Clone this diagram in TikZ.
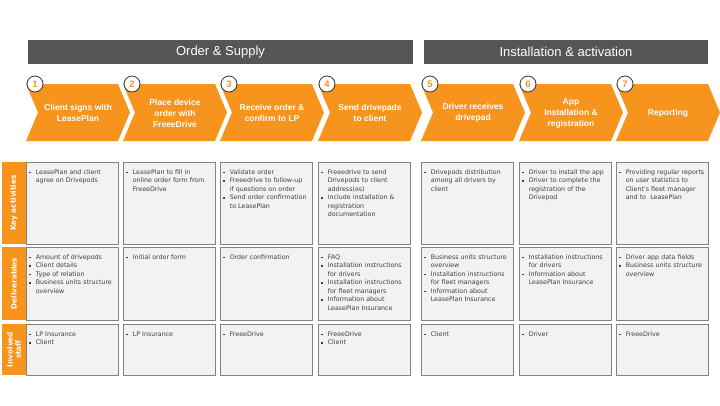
\documentclass[tikz,border=0pt]{standalone}
\usepackage{fontspec}
\setmainfont{Liberation Sans}
\newfontfamily\bodyfont{DejaVu Sans}
\usetikzlibrary{positioning, shadows}

\definecolor{lporange}{RGB}{247,148,30}
\definecolor{headgray}{RGB}{85,85,85}
\definecolor{cellfill}{RGB}{242,242,242}
\definecolor{cellline}{RGB}{130,130,130}
\definecolor{txtgray}{RGB}{64,64,64}

% bullet item with hanging indent
\newcommand{\itm}[1]{\par\hangindent=7pt\hangafter=1\noindent
  \makebox[7pt][l]{\hspace{0.6pt}\raisebox{1.3pt}{\rule{1.5pt}{1.5pt}}}{\let\\\newline #1}\par}

\begin{document}
\begin{tikzpicture}[
    x=1pt, y=-1pt,
    bar/.style={fill=headgray, text=white, font=\fontsize{13}{15}\selectfont, minimum height=24pt, inner sep=0pt},
    stepnum/.style={circle, draw=black!80, fill=white, line width=0.8pt, minimum size=16pt, inner sep=0pt, text=lporange, font=\bfseries\fontsize{9.5}{9.5}\selectfont},
    steptext/.style={text=white, font=\bfseries\fontsize{8.5}{11}\selectfont, align=center},
    cell/.style={draw=cellline, fill=cellfill, line width=0.8pt, minimum width=92pt, inner sep=0pt,
        drop shadow={shadow xshift=0.7pt, shadow yshift=-0.7pt, opacity=0.25}},
    side/.style={fill=lporange, rotate=90, minimum height=24pt, inner sep=0pt, text=white, align=center,
        font=\bodyfont\bfseries\fontsize{7.3}{8.3}\selectfont},
    txt/.style={anchor=north west, text width=90pt, align=left, inner sep=0pt, text=txtgray,
        font=\bodyfont\fontsize{6.3}{8.5}\selectfont}
]
\useasboundingbox (0,0) rectangle (720,405);

% phases
\node[bar, minimum width=385pt] (order) at (220.5,52) {Order \& Supply};
\node[bar, minimum width=284pt] (install) at (566,52) {Installation \& activation};

% process steps
\foreach \x/\n/\t in {26/1/{Client signs with\\LeasePlan}, 123/2/{Place device\\order with\\FreeeDrive},
    220/3/{Receive order \&\\confirm to LP}, 318/4/{Send drivepads\\to client}, 421/5/{Driver receives\\drivepad},
    519/6/{App\\Installation \&\\registration}, 616/7/{Reporting}} {
  \fill[lporange] (\x,84) -- ++(92,0) -- ++(12,28.5) -- ++(-12,28.5) -- ++(-92,0) -- ++(12,-28.5) -- cycle;
  \node[steptext] (step\n) at (\x+52,113) {\t};
  \node[stepnum] (num\n) at (\x+9,84) {\n};
}

% table cells
\foreach \x [count=\c] in {26,123,220,318,421,519,616} {
  \node[cell, minimum height=82pt] (key\c) at (\x+46,203) {};
  \node[cell, minimum height=73pt] (del\c) at (\x+46,283.5) {};
  \node[cell, minimum height=51pt] (inv\c) at (\x+46,349.5) {};
}

% row labels
\node[side, minimum width=82pt] (keyside) at (14,203) {Key activities};
\node[side, minimum width=73pt] (delside) at (14,283.5) {Deliverables};
\node[side, minimum width=51pt] (invside) at (14,349.5) {Involved\\staff};

% key activities
\node[txt] (keytxt1) at ([xshift=3pt,yshift=-4pt]key1.north west) {\itm{LeasePlan and client\\agree on Drivepods}};
\node[txt] (keytxt2) at ([xshift=3pt,yshift=-4pt]key2.north west) {\itm{LeasePlan to fill in\\online order form from\\FreeeDrive}};
\node[txt] (keytxt3) at ([xshift=3pt,yshift=-4pt]key3.north west) {\itm{Validate order}\itm{Freeedrive to follow-up\\if questions on order}\itm{Send order confirmation\\to LeasePlan}};
\node[txt] (keytxt4) at ([xshift=3pt,yshift=-4pt]key4.north west) {\itm{Freeedrive to send\\Drivepods to client\\address(es)}\itm{Include installation \&\\registration\\documentation}};
\node[txt] (keytxt5) at ([xshift=3pt,yshift=-4pt]key5.north west) {\itm{Drivepods distribution\\among all drivers by\\client}};
\node[txt] (keytxt6) at ([xshift=3pt,yshift=-4pt]key6.north west) {\itm{Driver to install the app}\itm{Driver to complete the\\registration of the\\Drivepod}};
\node[txt] (keytxt7) at ([xshift=3pt,yshift=-4pt]key7.north west) {\itm{Providing regular reports\\on user statistics to\\Client's fleet manager\\and to\ \ LeasePlan}};

% deliverables
\node[txt] (deltxt1) at ([xshift=3pt,yshift=-4pt]del1.north west) {\itm{Amount of drivepods}\itm{Client details}\itm{Type of relation}\itm{Business units structure\\overview}};
\node[txt] (deltxt2) at ([xshift=3pt,yshift=-4pt]del2.north west) {\itm{Initial order form}};
\node[txt] (deltxt3) at ([xshift=3pt,yshift=-4pt]del3.north west) {\itm{Order confirmation}};
\node[txt] (deltxt4) at ([xshift=3pt,yshift=-4pt]del4.north west) {\itm{FAQ}\itm{Installation instructions\\for drivers}\itm{Installation instructions\\for fleet managers}\itm{Information about\\LeasePlan Insurance}};
\node[txt] (deltxt5) at ([xshift=3pt,yshift=-4pt]del5.north west) {\itm{Business units structure\\overview}\itm{Installation instructions\\for fleet managers}\itm{Information about\\LeasePlan Insurance}};
\node[txt] (deltxt6) at ([xshift=3pt,yshift=-4pt]del6.north west) {\itm{Installation instructions\\for drivers}\itm{Information about\\LeasePlan Insurance}};
\node[txt] (deltxt7) at ([xshift=3pt,yshift=-4pt]del7.north west) {\itm{Driver app data fields}\itm{Business units structure\\overview}};

% involved staff
\node[txt] (invtxt1) at ([xshift=3pt,yshift=-4pt]inv1.north west) {\itm{LP Insurance}\itm{Client}};
\node[txt] (invtxt2) at ([xshift=3pt,yshift=-4pt]inv2.north west) {\itm{LP Insurance}};
\node[txt] (invtxt3) at ([xshift=3pt,yshift=-4pt]inv3.north west) {\itm{FreeeDrive}};
\node[txt] (invtxt4) at ([xshift=3pt,yshift=-4pt]inv4.north west) {\itm{FreeeDrive}\itm{Client}};
\node[txt] (invtxt5) at ([xshift=3pt,yshift=-4pt]inv5.north west) {\itm{Client}};
\node[txt] (invtxt6) at ([xshift=3pt,yshift=-4pt]inv6.north west) {\itm{Driver}};
\node[txt] (invtxt7) at ([xshift=3pt,yshift=-4pt]inv7.north west) {\itm{FreeeDrive}};
\end{tikzpicture}
\end{document}
